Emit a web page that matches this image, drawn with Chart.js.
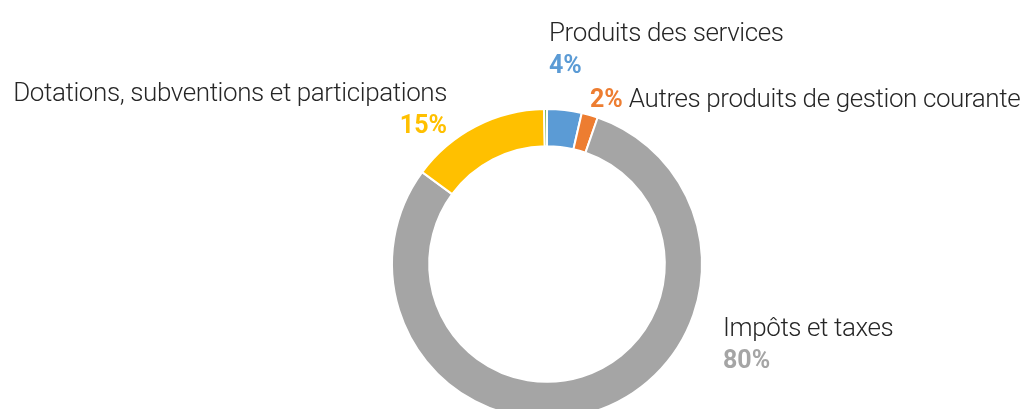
<!DOCTYPE html>
<html>
<head>
<meta charset="utf-8">
<script src="https://cdn.jsdelivr.net/npm/chart.js@4.4.0/dist/chart.umd.min.js"></script>
<style>
  html, body { margin: 0; padding: 0; background: #fff; overflow: hidden; }
  #wrap { width: 1024px; height: 440px; }
</style>
</head>
<body>
<div id="wrap"><canvas id="chart"></canvas></div>
<script>
// recettes de fonctionnement, en % du total
const categories = [
    'Produits des services',
    'Autres produits de gestion courante',
    'Impôts et taxes',
    'Dotations, subventions et participations',
    'Autres recettes'
];
const shares = [3.6, 1.7, 79.8, 14.6, 0.3];
const colors = ['#5B9BD5', '#ED7D31', '#A5A5A5', '#FFC000', '#70AD47'];

// where each label sits, relative to the doughnut centre (px)
// inline: percent then name on one line; null: no label
const labelLayout = [
    { dx: 2, dy: -223, align: 'left', inline: false },
    { dx: 43, dy: -157, align: 'left', inline: true },
    { dx: 176, dy: 72, align: 'left', inline: false },
    { dx: -100, dy: -163, align: 'right', inline: false },
    null
];

const nameFont = '300 26px Roboto';
const pctFont = 'bold 25px Roboto';

const labelPlugin = {
    id: 'sliceLabels',
    afterDraw(chart) {
        const ctx = chart.ctx;
        const meta = chart.getDatasetMeta(0);
        const ds = chart.data.datasets[0];
        ctx.save();
        ctx.textBaseline = 'alphabetic';
        meta.data.forEach((arc, i) => {
            const lay = labelLayout[i];
            if (!lay) return;
            const pct = Math.round(ds.data[i]) + '%';
            const x = arc.x + lay.dx;
            const y = arc.y + lay.dy;
            if (lay.inline) {
                ctx.textAlign = 'left';
                ctx.letterSpacing = '0px';
                ctx.font = pctFont;
                ctx.fillStyle = colors[i];
                ctx.fillText(pct, x, y);
                const w = ctx.measureText(pct).width + 6;
                ctx.font = nameFont;
                ctx.letterSpacing = '-0.4px';
                ctx.fillStyle = '#262626';
                ctx.fillText(chart.data.labels[i], x + w, y);
            } else {
                ctx.textAlign = lay.align;
                ctx.font = nameFont;
                ctx.letterSpacing = '-0.4px';
                ctx.fillStyle = '#262626';
                ctx.fillText(chart.data.labels[i], x, y);
                ctx.font = pctFont;
                ctx.letterSpacing = '0px';
                ctx.fillStyle = colors[i];
                ctx.fillText(pct, x, y + 32);
            }
        });
        ctx.restore();
    }
};

new Chart(document.getElementById('chart'), {
    type: 'doughnut',
    data: {
        labels: categories,
        datasets: [{
            data: shares,
            backgroundColor: colors,
            borderColor: '#ffffff',
            borderWidth: 2
        }]
    },
    options: {
        responsive: true,
        maintainAspectRatio: false,
        animation: false,
        cutout: '76%',
        layout: { padding: { top: 108, bottom: 20, left: 70, right: 0 } },
        plugins: {
            legend: { display: false },
            tooltip: { enabled: false }
        }
    },
    plugins: [labelPlugin]
});
</script>
</body>
</html>
